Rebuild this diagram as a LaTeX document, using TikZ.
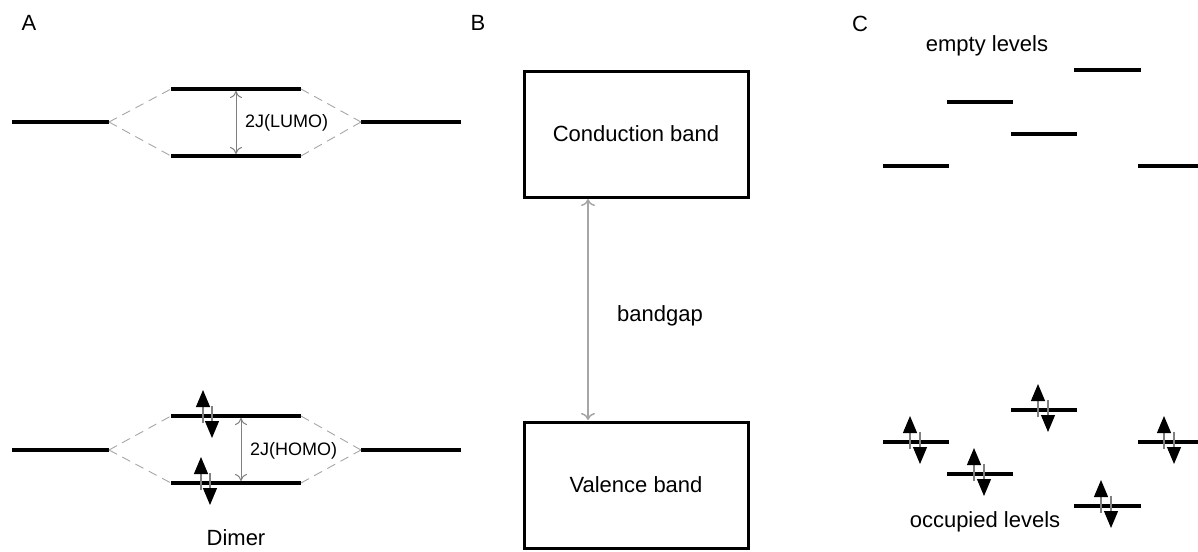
\documentclass[tikz,border=0pt]{standalone}
\usepackage{fontspec}
\setmainfont{Liberation Sans}
\usetikzlibrary{arrows.meta}
\tikzset{
  lev/.style={line width=3.4pt, black},
  mixline/.style={draw=gray!70, dash pattern=on 9pt off 6pt, line width=0.9pt},
  gaparrow/.style={draw=gray, line width=1pt, {To[length=7pt,width=12pt]}-{To[length=7pt,width=12pt]}},
  bandarrow/.style={draw=gray!70, line width=1.5pt, {To[length=7pt,width=14pt]}-{To[length=7pt,width=14pt]}},
  spin/.style={draw=gray, line width=1.1pt, -{Triangle[width=14pt,length=17pt,color=black]}},
  band/.style={draw=black, line width=3pt, minimum width=224pt, minimum height=126pt, inner sep=0pt},
  txt/.style={font=\fontsize{22}{26}\selectfont, inner sep=0pt},
  small/.style={font=\fontsize{18}{22}\selectfont, inner sep=0pt},
  panel/.style={font=\fontsize{22}{26}\selectfont, inner sep=0pt}
}
\newcommand{\spinpair}[3]{% up x, down x, level y
  \draw[spin] (#1,#3+7) -- (#1,#3-26);
  \draw[spin] (#2,#3-10) -- (#2,#3+22);
}
\begin{document}
\begin{tikzpicture}[x=1pt,y=-1pt]
\useasboundingbox (0,0) rectangle (1198,551);
% panel labels
\node[panel] (lA) at (29,23) {A};
\node[panel] (lB) at (478,23) {B};
\node[panel] (lC) at (860,24) {C};

% ---------- Panel A : LUMO ----------
\coordinate (l1a) at (12,122);  \coordinate (l1b) at (109,122);
\coordinate (r1a) at (361,122); \coordinate (r1b) at (461,122);
\coordinate (u1a) at (171,89);  \coordinate (u1b) at (301,89);
\coordinate (d1a) at (171,156); \coordinate (d1b) at (301,156);
\draw[lev] (l1a) -- (l1b);
\draw[lev] (r1a) -- (r1b);
\draw[lev] (u1a) -- (u1b);
\draw[lev] (d1a) -- (d1b);
\draw[mixline] (l1b) -- (u1a);
\draw[mixline] (l1b) -- (d1a);
\draw[mixline] (u1b) -- (r1a);
\draw[mixline] (d1b) -- (r1a);
\coordinate (g1t) at (236,91); \coordinate (g1b) at (236,154);
\draw[gaparrow] (g1t) -- (g1b);
\node[small, anchor=west] (jl) at (245,123) {2J(LUMO)};

% ---------- Panel A : HOMO ----------
\coordinate (l2a) at (12,450);  \coordinate (l2b) at (109,450);
\coordinate (r2a) at (361,450); \coordinate (r2b) at (461,450);
\coordinate (u2a) at (171,416); \coordinate (u2b) at (301,416);
\coordinate (d2a) at (171,483); \coordinate (d2b) at (301,483);
\draw[lev] (l2a) -- (l2b);
\draw[lev] (r2a) -- (r2b);
\draw[lev] (u2a) -- (u2b);
\draw[lev] (d2a) -- (d2b);
\draw[mixline] (l2b) -- (u2a);
\draw[mixline] (l2b) -- (d2a);
\draw[mixline] (u2b) -- (r2a);
\draw[mixline] (d2b) -- (r2a);
\coordinate (g2t) at (241,418); \coordinate (g2b) at (241,481);
\draw[gaparrow] (g2t) -- (g2b);
\node[small, anchor=west] (jh) at (250,451) {2J(HOMO)};
\spinpair{203}{212}{416}
\spinpair{201}{210}{483}
\node[txt] (dimer) at (236,538) {Dimer};

% ---------- Panel B ----------
\node[band] (cb) at (636,134) {};
\node[txt] at (cb.center) {Conduction band};
\node[band] (vb) at (636,485) {};
\node[txt] at (vb.center) {Valence band};
\coordinate (gapt) at (588,199); \coordinate (gapb) at (588,420);
\draw[bandarrow] (gapt) -- (gapb);
\node[txt] (bg) at (660,316) {bandgap};

% ---------- Panel C ----------
\node[txt] (empty) at (987,46) {empty levels};
\draw[lev] (1074,70) -- (1141,70);
\draw[lev] (947,102) -- (1013,102);
\draw[lev] (1011,134) -- (1077,134);
\draw[lev] (883,166) -- (949,166);
\draw[lev] (1138,166) -- (1198,166);

\draw[lev] (883,442) -- (949,442);
\draw[lev] (947,474) -- (1013,474);
\draw[lev] (1011,410) -- (1077,410);
\draw[lev] (1074,506) -- (1141,506);
\draw[lev] (1138,442) -- (1198,442);
\spinpair{910}{920}{442}
\spinpair{974}{984}{474}
\spinpair{1038}{1048}{410}
\spinpair{1101}{1111}{506}
\spinpair{1164}{1174}{442}
\node[txt] (occ) at (985,522) {occupied levels};
\end{tikzpicture}
\end{document}
